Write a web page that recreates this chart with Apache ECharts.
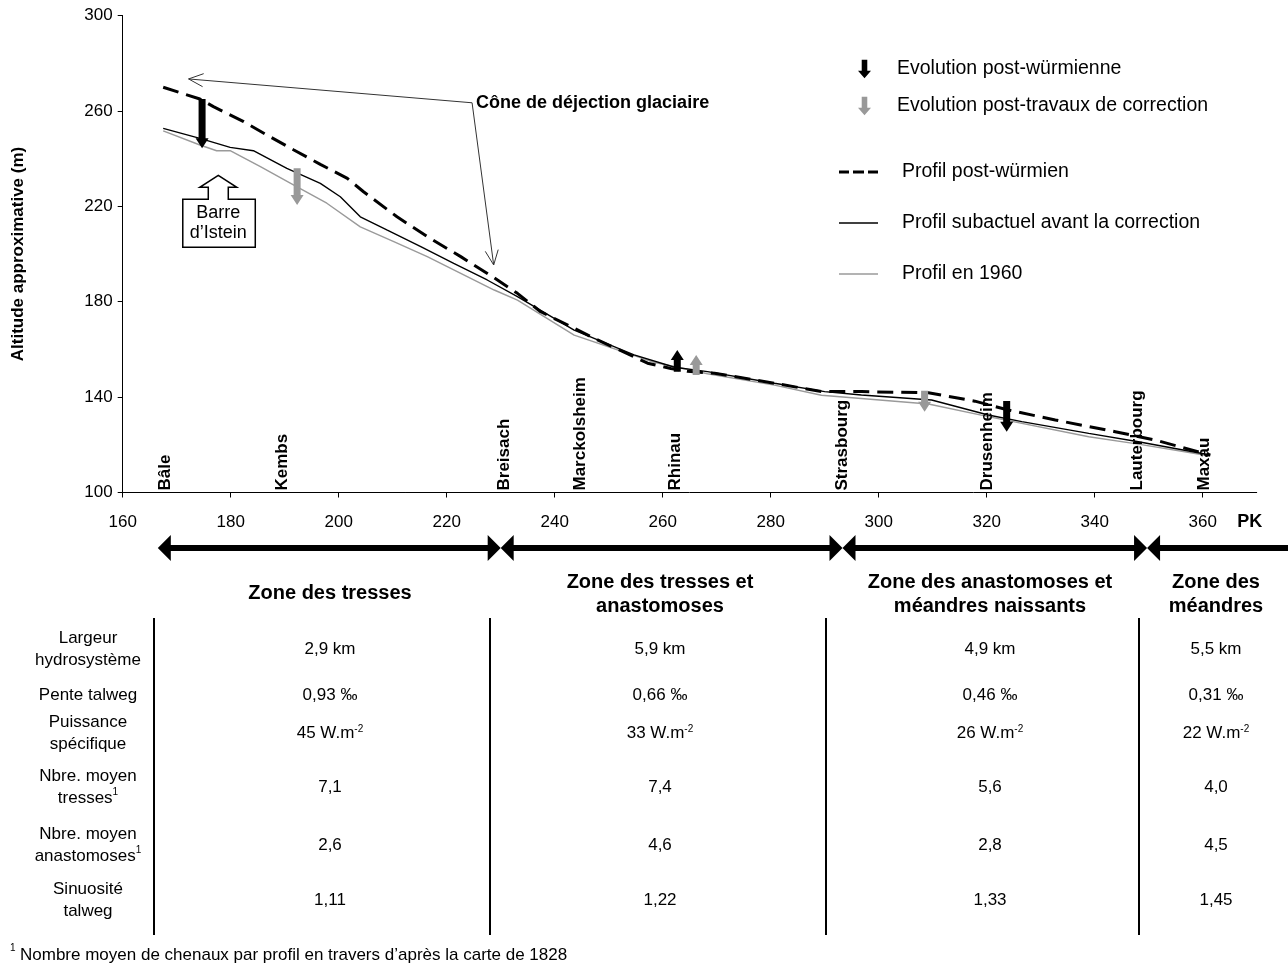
<!DOCTYPE html>
<html><head><meta charset="utf-8">
<script src="https://cdn.jsdelivr.net/npm/echarts@6/dist/echarts.min.js"></script>
<style>html,body{margin:0;padding:0;background:#fff}#c{width:1288px;height:967px}</style>
</head><body><div id="c"></div>
<script>
// ---------- DATA ----------
const pkPostWurm  = [167.5,174.3,176.8,182.4,186.4,191.7,196.6,201.6,204.6,210.8,216.4,222.6,228.8,233.1,237.4,247.3,257.2,261.5,264.6,269.6,280.7,289.4,296.8,309.2,317.8,324.0,332.7,343.8,351.2,361.4];
const altPostWurm = [269.9,265.0,261.8,255.5,250.3,243.6,237.6,231.7,226.1,215.6,207.3,198.9,190.0,183.5,175.8,164.7,154.2,152.0,150.8,150.0,145.8,142.3,142.3,141.8,138.3,134.6,130.4,125.5,122.0,115.7];
const pkSubact  = [167.5,174.3,179.9,184.2,190.4,196.6,200.3,204.0,209.0,215.2,221.3,227.5,233.1,243.6,254.7,262.2,268.3,280.7,290.0,296.8,309.8,320.3,326.5,338.9,348.1,361.4];
const altSubact = [252.7,248.5,244.7,243.3,235.9,229.6,224.0,215.6,210.0,203.1,196.1,189.1,182.1,168.1,157.7,152.5,150.7,145.8,142.3,140.9,138.8,132.5,129.7,124.8,121.3,115.7];
const pk1960  = [167.5,174.3,177.4,179.9,185.5,191.7,197.8,204.0,210.2,216.4,222.6,228.8,233.1,243.6,258.4,268.3,280.7,289.4,309.2,320.3,338.9,348.1,361.4];
const alt1960 = [251.6,245.7,243.3,243.3,236.6,228.9,221.3,211.4,205.2,198.9,191.9,184.9,180.7,166.0,154.6,149.8,145.0,140.8,137.1,131.8,123.4,120.3,115.3];
// arrows: [PK, from altitude, to altitude]
const arrowsWurm = [[174.7,265.0,244.3],[262.7,150.6,159.7],[323.7,138.4,125.5]];
const arrowsCorr = [[192.3,236.0,220.5],[266.2,149.3,157.7],[308.5,142.7,133.9]];
const placeNames = ['Bâle','Kembs','Breisach','Marckolsheim','Rhinau','Strasbourg','Drusenheim','Lauterbourg','Maxau'];
const placePK    = [167.8,189.5,230.6,244.8,262.3,293.3,320.1,347.9,360.3];
const coneLabel = 'Cône de déjection glaciaire';
const coneJunction = [224.7,263.4];
const coneTargets = [[172.2,273.4],[228.7,195.4]];
const barrePoint = [177.7,233.0];
const barreLabel = 'Barre\nd\u2019Istein';
const zoneBounds = [166.5,230.0,293.3,349.7];
const zoneTitles = ['Zone des tresses','Zone des tresses et\nanastomoses','Zone des anastomoses et\nméandres naissants','Zone des\nméandres'];
const rowLabels = ['Largeur\nhydrosystème','Pente talweg','Puissance\nspécifique','Nbre. moyen\ntresses{s|1}','Nbre. moyen\nanastomoses{s|1}','Sinuosité\ntalweg'];
const rowLargeur   = ['2,9 km','5,9 km','4,9 km','5,5 km'];
const rowPente     = ['0,93 ‰','0,66 ‰','0,46 ‰','0,31 ‰'];
const rowPuissance = ['45 W.m{s|-2}','33 W.m{s|-2}','26 W.m{s|-2}','22 W.m{s|-2}'];
const rowTresses   = ['7,1','7,4','5,6','4,0'];
const rowAnast     = ['2,6','4,6','2,8','4,5'];
const rowSinuos    = ['1,11','1,22','1,33','1,45'];
const footnote = 'Nombre moyen de chenaux par profil en travers d\u2019après la carte de 1828';
const xTickValues  = [160,180,200,220,240,260,280,300,320,340,360];
const xLabelValues = [160,180,200,220,240,260,280,300,320,340,360,370];
const xRange = {min:160, max:370};
const yTicks = {min:100, max:300, interval:40};

// ---------- CHART ----------
const FONT = '"Liberation Sans", Arial, Helvetica, sans-serif';
const zip = (a,b) => a.map((v,i)=>[v,b[i]]);
const chart = echarts.init(document.getElementById('c'));

function arrowRender(color){
  return function(params, api){
    const x = api.value(0), a = api.value(1), b = api.value(2);
    const p0 = api.coord([x,a]), p1 = api.coord([x,b]);
    const dir = p1[1] > p0[1] ? 1 : -1;
    const hl = 10, hw = 6.5, sw = 3.5, cx = p0[0];
    const base = p1[1] - dir*hl;
    return {type:'polygon', shape:{points:[[cx-sw,p0[1]],[cx+sw,p0[1]],[cx+sw,base],[cx+hw,base],[cx,p1[1]],[cx-hw,base],[cx-sw,base]]},
      style:{fill:color}};
  };
}
const ARROW_ICON = 'path://M4,0L10,0L10,12L14,12L7,20L0,12L4,12Z';
const legendText = {fontSize:19.5,color:'#000',fontFamily:FONT,lineHeight:22};

const option = {
  animation:false,
  textStyle:{fontFamily:FONT},
  grid:{left:122.7, top:15.5, right:31.3, bottom:474.5, containLabel:false},
  xAxis:{type:'value', min:xRange.min, max:xRange.max,
    axisLine:{lineStyle:{color:'#000',width:1}},
    axisTick:{show:true,length:5,lineStyle:{color:'#000'},customValues:xTickValues},
    splitLine:{show:false},
    axisLabel:{color:'#000',fontSize:17,margin:21,fontFamily:FONT,customValues:xLabelValues,
      formatter:v => v===370 ? '{pk|PK}' : String(v),
      rich:{pk:{fontWeight:'bold',fontSize:18,fontFamily:FONT,color:'#000',padding:[0,14,0,0]}}}},
  yAxis:{type:'value', min:yTicks.min, max:yTicks.max, interval:yTicks.interval,
    name:'Altitude approximative (m)', nameLocation:'middle', nameGap:96, nameRotate:90,
    nameTextStyle:{fontWeight:'bold',fontSize:17,color:'#000',fontFamily:FONT},
    axisLine:{show:true,lineStyle:{color:'#000',width:1}},
    axisTick:{show:true,length:5,lineStyle:{color:'#000'}},
    splitLine:{show:false},
    axisLabel:{color:'#000',fontSize:17,margin:10,fontFamily:FONT}},
  legend:[
    {data:[{name:'Evolution post-würmienne',icon:ARROW_ICON},{name:'Evolution post-travaux de correction',icon:ARROW_ICON}],
     orient:'vertical', left:853, top:53, itemWidth:13, itemHeight:19, itemGap:15, selectedMode:false,
     textStyle:Object.assign({padding:[0,0,0,21]},legendText)},
    {data:[{name:'Profil post-würmien',icon:'path://M0,0H10V3H0ZM14,0H25V3H14ZM29,0H39V3H29Z'}],
     orient:'vertical', left:834, top:156, itemWidth:39, itemHeight:3, selectedMode:false,
     textStyle:Object.assign({padding:[0,0,0,19]},legendText)},
    {data:[{name:'Profil subactuel avant la correction',icon:'path://M0,0H39V1.4H0Z'},{name:'Profil en 1960',icon:'path://M0,0H39V1.4H0Z'}],
     orient:'vertical', left:834, top:207, itemWidth:39, itemHeight:1.4, itemGap:29, selectedMode:false,
     textStyle:Object.assign({padding:[0,0,0,19]},legendText)}
  ],
  series:[
    {name:'Profil en 1960', type:'line', data:zip(pk1960,alt1960), symbol:'none', z:2,
     lineStyle:{color:'#9a9a9a',width:1.4}, itemStyle:{color:'#9a9a9a'}},
    {name:'Profil subactuel avant la correction', type:'line', data:zip(pkSubact,altSubact), symbol:'none', z:3,
     lineStyle:{color:'#000',width:1.4}, itemStyle:{color:'#000'}},
    {name:'Profil post-würmien', type:'line', data:zip(pkPostWurm,altPostWurm), symbol:'none', z:4,
     lineStyle:{color:'#000',width:3,type:[16,8]}, itemStyle:{color:'#000'}},
    {name:'Evolution post-würmienne', type:'custom', data:arrowsWurm, encode:{x:0,y:[1,2]}, z:6,
     itemStyle:{color:'#000'}, renderItem:arrowRender('#000')},
    {name:'Evolution post-travaux de correction', type:'custom', data:arrowsCorr, encode:{x:0,y:[1,2]}, z:6,
     itemStyle:{color:'#999'}, renderItem:arrowRender('#999')},
    {name:'places', type:'custom', data:placePK.map(p=>[p,yTicks.min]), encode:{x:0,y:1}, z:5, clip:false,
     renderItem:function(params, api){
       const p = api.coord([api.value(0), api.value(1)]);
       return {type:'text', x:p[0], y:p[1]-2, rotation:Math.PI/2,
         style:{text:placeNames[params.dataIndex], font:'bold 17px '+FONT, fill:'#000', align:'left', verticalAlign:'middle'}};
     }},
    {name:'cone', type:'custom', data:coneTargets, encode:{x:0,y:1}, z:5, clip:false,
     renderItem:function(params, api){
       const j = api.coord(coneJunction);
       const t = api.coord([api.value(0), api.value(1)]);
       const ang = Math.atan2(t[1]-j[1], t[0]-j[0]);
       const L = 16, w = 0.42;
       const h1 = [t[0]-L*Math.cos(ang-w), t[1]-L*Math.sin(ang-w)];
       const h2 = [t[0]-L*Math.cos(ang+w), t[1]-L*Math.sin(ang+w)];
       const ch = [
         {type:'line', shape:{x1:j[0],y1:j[1],x2:t[0],y2:t[1]}, style:{stroke:'#333',lineWidth:1}},
         {type:'polyline', shape:{points:[h1,t,h2]}, style:{stroke:'#333',lineWidth:1,fill:null}}
       ];
       if (params.dataIndex===0) ch.push({type:'text', x:j[0]+4, y:j[1], style:{text:coneLabel, font:'bold 18px '+FONT, fill:'#000', verticalAlign:'middle'}});
       return {type:'group', children:ch};
     }}
  ]
};
chart.setOption(option);

// ---------- annotations / table ----------
const g = [];
const bt = chart.convertToPixel({gridIndex:0}, barrePoint);
const bx = bt[0], by = bt[1];
g.push({type:'polygon', z:20, shape:{points:[[bx,by],[bx+18.5,by+12],[bx+10,by+12],[bx+10,by+24],[bx+37,by+24],[bx+37,by+72],[bx-35.5,by+72],[bx-35.5,by+24],[bx-10,by+24],[bx-10,by+12],[bx-18.5,by+12]]},
  style:{fill:'#fff',stroke:'#000',lineWidth:1.5}});
g.push({type:'text', z:21, x:bx, y:by+48, style:{text:barreLabel, font:'18px '+FONT, fill:'#000', align:'center', verticalAlign:'middle', lineHeight:20}});

const AY = 548, HL = 13, HH = 13, LW = 6;
const zx = zoneBounds.map(v => chart.convertToPixel({gridIndex:0}, [v, 200])[0]);
const segs = [[zx[0],zx[1],true,true],[zx[1],zx[2],true,true],[zx[2],zx[3],true,true],[zx[3],1288,true,false]];
segs.forEach(s => {
  const [a,b,lh,rh] = s;
  g.push({type:'line', shape:{x1:a+(lh?HL-1:0), y1:AY, x2:b-(rh?HL-1:0), y2:AY}, style:{stroke:'#000', lineWidth:LW}});
  if (lh) g.push({type:'polygon', shape:{points:[[a,AY],[a+HL,AY-HH],[a+HL,AY+HH]]}, style:{fill:'#000'}});
  if (rh) g.push({type:'polygon', shape:{points:[[b,AY],[b-HL,AY-HH],[b-HL,AY+HH]]}, style:{fill:'#000'}});
});

const TF = '17px '+FONT;
const colX = [330,660,990,1216];
const titleY = [593,594,594,594];
zoneTitles.forEach((t,i)=> g.push({type:'text', x:colX[i], y:titleY[i], style:{text:t, font:'bold 20px '+FONT, fill:'#000', align:'center', verticalAlign:'middle', lineHeight:24}}));
[154,490,826,1139].forEach(x => g.push({type:'line', shape:{x1:x,y1:618,x2:x,y2:935}, style:{stroke:'#000',lineWidth:2}}));
const rows = [rowLargeur,rowPente,rowPuissance,rowTresses,rowAnast,rowSinuos];
const rowY = [649,695,733,787,845,900];
const rich = {s:{fontSize:10, verticalAlign:'top', padding:[0,0,8,0], fontFamily:FONT, color:'#000'}};
rowLabels.forEach((t,i)=> g.push({type:'text', x:88, y:rowY[i], style:{text:t, font:TF, fill:'#000', align:'center', verticalAlign:'middle', lineHeight:22, rich}}));
rows.forEach((r,i)=> r.forEach((v,j)=> g.push({type:'text', x:colX[j], y:rowY[i], style:{text:v, font:TF, fill:'#000', align:'center', verticalAlign:'middle', rich}})));
g.push({type:'text', x:10, y:948, style:{text:'1', font:'10px '+FONT, fill:'#000', verticalAlign:'middle'}});
g.push({type:'text', x:20, y:955, style:{text:footnote, font:TF, fill:'#000', verticalAlign:'middle'}});
chart.setOption({graphic:g});
</script></body></html>
